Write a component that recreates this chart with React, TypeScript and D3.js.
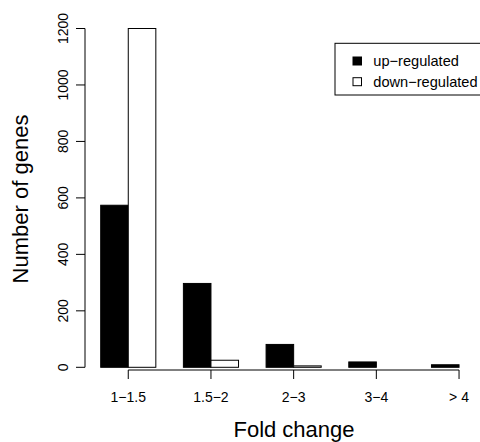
import * as d3 from 'd3'

const CATEGORIES = ['1−1.5', '1.5−2', '2−3', '3−4', '> 4']
const SERIES = ['up-regulated', 'down-regulated']
const LEGEND_LABELS = ['up−regulated', 'down−regulated']
const UP_VALUES = [574, 297, 81, 19, 9]
const DOWN_VALUES = [1200, 25, 5, 0, 0]
const Y_TICKS = [0, 200, 400, 600, 800, 1000, 1200]
const FILLS = ['#000000', '#ffffff']

const WIDTH = 480
const HEIGHT = 442
const FONT = '"Liberation Sans", Arial, Helvetica, sans-serif'

export default function App() {
  const x = d3
    .scaleBand<string>()
    .domain(CATEGORIES)
    .range([100.7, 100.7 + 5 * 82.7 - 27.6])
    .paddingInner(1 / 3)
    .paddingOuter(0)
  const inner = d3.scaleBand<string>().domain(SERIES).range([0, x.bandwidth()])
  const y = d3.scaleLinear().domain([0, 1200]).range([367.3, 28.5])

  const values = [UP_VALUES, DOWN_VALUES]
  const tickX = (c: string) => (x(c) ?? 0) + x.bandwidth() / 2
  const axisY = 370
  const axisX = 85

  return (
    <svg
      width={WIDTH}
      height={HEIGHT}
      viewBox={`0 0 ${WIDTH} ${HEIGHT}`}
      style={{ position: 'absolute', left: 0, top: 0, background: '#fff', fontFamily: FONT }}
    >
      <rect width={WIDTH} height={HEIGHT} fill="#fff" />

      {CATEGORIES.map((c, i) =>
        SERIES.map((s, j) => {
          const v = values[j][i]
          if (v <= 0) return null
          return (
            <rect
              key={c + s}
              x={(x(c) ?? 0) + (inner(s) ?? 0)}
              y={y(v)}
              width={inner.bandwidth()}
              height={y(0) - y(v)}
              fill={FILLS[j]}
              stroke="#000"
              strokeWidth={1}
            />
          )
        })
      )}

      {/* y axis */}
      <line x1={axisX} x2={axisX} y1={y(0)} y2={y(1200)} stroke="#000" />
      {Y_TICKS.map((t) => (
        <g key={t}>
          <line x1={axisX - 9} x2={axisX} y1={y(t)} y2={y(t)} stroke="#000" />
          <text
            transform={`translate(68 ${y(t)}) rotate(-90)`}
            textAnchor="middle"
            fontSize={14}
            fill="#000"
          >
            {t}
          </text>
        </g>
      ))}

      {/* x axis */}
      <line
        x1={tickX(CATEGORIES[0])}
        x2={tickX(CATEGORIES[CATEGORIES.length - 1])}
        y1={axisY}
        y2={axisY}
        stroke="#000"
      />
      {CATEGORIES.map((c) => (
        <g key={c}>
          <line x1={tickX(c)} x2={tickX(c)} y1={axisY} y2={axisY + 9} stroke="#000" />
          <text x={tickX(c)} y={402} textAnchor="middle" fontSize={14} fill="#000">
            {c}
          </text>
        </g>
      ))}

      <text x={294} y={437} textAnchor="middle" fontSize={22} fill="#000">
        Fold change
      </text>
      <text
        transform={`translate(28 199) rotate(-90)`}
        textAnchor="middle"
        fontSize={22}
        fill="#000"
      >
        Number of genes
      </text>

      {/* legend: box runs past the right edge, as in the original */}
      <rect x={335} y={43.3} width={180} height={51.7} fill="#fff" stroke="#000" />
      {LEGEND_LABELS.map((l, i) => (
        <g key={l} transform={`translate(0 ${61 + i * 20.7})`}>
          <rect x={353} y={-4} width={8.5} height={8} fill={FILLS[i]} stroke="#000" />
          <text x={373.3} y={5} fontSize={14.6} fill="#000">
            {l}
          </text>
        </g>
      ))}
    </svg>
  )
}
